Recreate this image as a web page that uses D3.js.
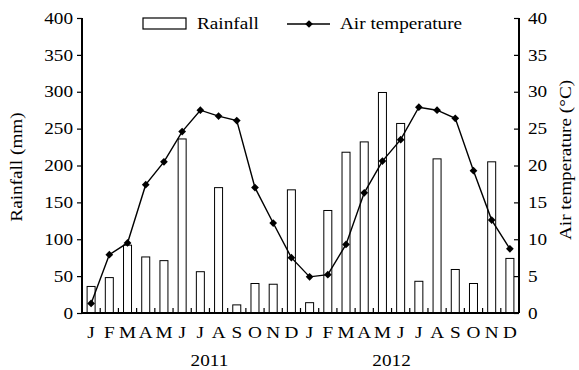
<!DOCTYPE html>
<html>
<head>
<meta charset="utf-8">
<script src="https://cdn.jsdelivr.net/npm/d3@7"></script>
<style>
  body { margin: 0; background: #fff; }
</style>
</head>
<body>
<svg></svg>
<script>
var WIDTH = 579;
var HEIGHT = 370;
var FONT = '"Liberation Serif", "Times New Roman", "DejaVu Serif", serif';

var months = ['J','F','M','A','M','J','J','A','S','O','N','D',
              'J','F','M','A','M','J','J','A','S','O','N','D'];
var years = ['2011', '2012'];
var yearPos = [7, 17];   // month boundary under which each year label sits

var rainfall = [36, 48, 92, 76, 71, 236, 56, 170, 11, 40, 39, 167,
                14, 139, 218, 232, 299, 257, 43, 209, 59, 40, 205, 74];
var airTemp = [1.3, 7.9, 9.5, 17.4, 20.5, 24.6, 27.5, 26.7, 26.1, 17.0, 12.2, 7.5,
               4.9, 5.2, 9.3, 16.3, 20.6, 23.5, 27.9, 27.5, 26.4, 19.3, 12.6, 8.7];

var rainTicks = [0, 50, 100, 150, 200, 250, 300, 350, 400];
var tempTicks = [0, 5, 10, 15, 20, 25, 30, 35, 40];

var LEFT = 82, RIGHT = 519, TOP = 18, BOTTOM = 313;

var svg = d3.select('svg')
  .attr('width', WIDTH)
  .attr('height', HEIGHT);

var idx = d3.range(months.length);
var xScale = d3.scaleBand().domain(idx).range([LEFT, RIGHT]).padding(0);
var bw = xScale.bandwidth();
var yRain = d3.scaleLinear().domain([0, 400]).range([BOTTOM, TOP]);
var yTemp = d3.scaleLinear().domain([0, 40]).range([BOTTOM, TOP]);

// bars
svg.append('g').selectAll('rect')
  .data(rainfall)
  .enter()
  .append('rect')
  .attr('x', function(d, i){ return xScale(i) + bw / 2 - 4; })
  .attr('y', function(d){ return yRain(d); })
  .attr('width', 8)
  .attr('height', function(d){ return BOTTOM - yRain(d); })
  .attr('fill', '#fff')
  .attr('stroke', '#000')
  .attr('stroke-width', 1);

// temperature line
var line = d3.line()
  .x(function(d, i){ return xScale(i) + bw / 2; })
  .y(function(d){ return yTemp(d); });

svg.append('path')
  .datum(airTemp)
  .attr('d', line)
  .attr('fill', 'none')
  .attr('stroke', '#000')
  .attr('stroke-width', 1.4);

var marker = d3.symbol().type(d3.symbolSquare).size(30);
svg.append('g').selectAll('path')
  .data(airTemp)
  .enter()
  .append('path')
  .attr('d', marker)
  .attr('transform', function(d, i){
    return 'translate(' + (xScale(i) + bw / 2) + ',' + yTemp(d) + ') rotate(45)';
  })
  .attr('fill', '#000');

// left axis
var leftAxis = d3.axisLeft(yRain).tickValues(rainTicks).tickSize(5).tickPadding(4);
var gl = svg.append('g')
  .attr('transform', 'translate(' + LEFT + ',0)')
  .call(leftAxis);

// right axis (ticks pointing inward)
var rightAxis = d3.axisRight(yTemp).tickValues(tempTicks).tickSize(-5).tickPadding(9);
var gr = svg.append('g')
  .attr('transform', 'translate(' + RIGHT + ',0)')
  .call(rightAxis);

// bottom axis: ticks at month boundaries, pointing up
var boundaries = d3.range(1, months.length);
var gb = svg.append('g');
gb.append('line')
  .attr('x1', LEFT).attr('x2', RIGHT)
  .attr('y1', BOTTOM).attr('y2', BOTTOM)
  .attr('stroke', '#000').attr('stroke-width', 2);
gb.selectAll('line.tk')
  .data(boundaries)
  .enter()
  .append('line')
  .attr('class', 'tk')
  .attr('x1', function(d){ return xScale(d); })
  .attr('x2', function(d){ return xScale(d); })
  .attr('y1', BOTTOM).attr('y2', BOTTOM - 5)
  .attr('stroke', '#000').attr('stroke-width', 1.2);

gb.selectAll('text.m')
  .data(months)
  .enter()
  .append('text')
  .attr('class', 'm')
  .attr('x', function(d, i){ return xScale(i) + bw / 2; })
  .attr('y', 338)
  .attr('text-anchor', 'middle')
  .text(function(d){ return d; });

gb.selectAll('text.y')
  .data(years)
  .enter()
  .append('text')
  .attr('class', 'y')
  .attr('x', function(d, i){ return xScale(yearPos[i]); })
  .attr('y', 366)
  .attr('text-anchor', 'middle')
  .text(function(d){ return d; });

[gl, gr].forEach(function(g){
  g.attr('font-family', null).attr('font-size', null);
  g.select('.domain').attr('stroke', '#000').attr('stroke-width', 2)
    .attr('d', function(){ return 'M0,' + TOP + 'V' + BOTTOM; });
  g.selectAll('.tick line').attr('stroke', '#000').attr('stroke-width', 1.2);
});

// axis titles
svg.append('text')
  .attr('transform', 'translate(22,167) rotate(-90)')
  .attr('text-anchor', 'middle')
  .text('Rainfall (mm)');

svg.append('text')
  .attr('transform', 'translate(571,160) rotate(-90)')
  .attr('text-anchor', 'middle')
  .text('Air temperature (°C)');

// legend
var leg = svg.append('g');
leg.append('rect')
  .attr('x', 143).attr('y', 18).attr('width', 43).attr('height', 11)
  .attr('fill', '#fff').attr('stroke', '#000').attr('stroke-width', 1.2);
leg.append('text')
  .attr('x', 197).attr('y', 29)
  .text('Rainfall');
leg.append('line')
  .attr('x1', 287).attr('x2', 330).attr('y1', 24).attr('y2', 24)
  .attr('stroke', '#000').attr('stroke-width', 1.4);
leg.append('path')
  .attr('d', marker)
  .attr('transform', 'translate(309,24) rotate(45)')
  .attr('fill', '#000');
leg.append('text')
  .attr('x', 340).attr('y', 29)
  .text('Air temperature');

// the source figure is stretched sideways, so widen every label a little
svg.selectAll('text')
  .style('font-family', FONT)
  .style('font-size', '16px')
  .attr('fill', '#000')
  .each(function(){
    var len = this.getComputedTextLength();
    d3.select(this)
      .attr('textLength', len * 1.2)
      .attr('lengthAdjust', 'spacingAndGlyphs');
  });
</script>
</body>
</html>
